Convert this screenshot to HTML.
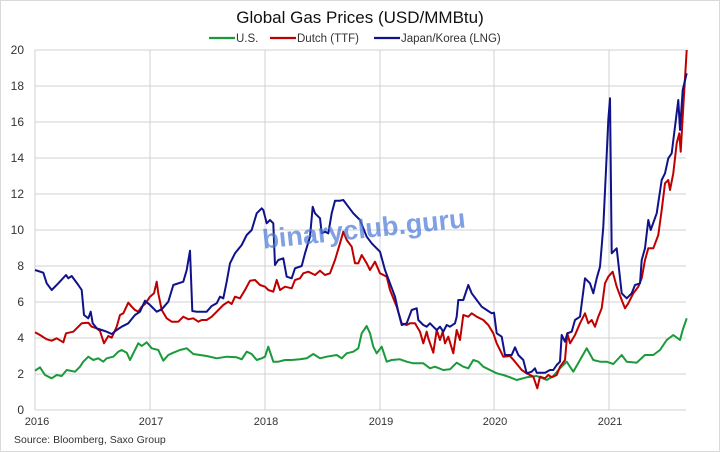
<!DOCTYPE html>
<html><head><meta charset="utf-8"><style>
html,body{margin:0;padding:0;background:#fff}
svg{display:block}
text{font-family:"Liberation Sans",sans-serif}
</style></head><body>
<svg width="720" height="452" viewBox="0 0 720 452" xmlns="http://www.w3.org/2000/svg">
<rect x="0.5" y="0.5" width="719" height="451" fill="#fff" stroke="#d9d9d9"/>
<text x="360" y="23" font-size="17" text-anchor="middle" fill="#111">Global Gas Prices (USD/MMBtu)</text>
<g font-size="11.5" fill="#333">
<line x1="209" y1="38" x2="235" y2="38" stroke="#1a9a3a" stroke-width="2.2"/><text x="236" y="42">U.S.</text>
<line x1="270" y1="38" x2="296" y2="38" stroke="#c00000" stroke-width="2.2"/><text x="297" y="42">Dutch (TTF)</text>
<line x1="374" y1="38" x2="400" y2="38" stroke="#10128a" stroke-width="2.2"/><text x="401" y="42">Japan/Korea (LNG)</text>
</g>
<g stroke="#d0d0d0" stroke-width="1">
<line x1="35" y1="50" x2="686" y2="50"/><line x1="35" y1="86" x2="686" y2="86"/><line x1="35" y1="122" x2="686" y2="122"/><line x1="35" y1="158" x2="686" y2="158"/><line x1="35" y1="194" x2="686" y2="194"/><line x1="35" y1="230" x2="686" y2="230"/><line x1="35" y1="266" x2="686" y2="266"/><line x1="35" y1="302" x2="686" y2="302"/><line x1="35" y1="338" x2="686" y2="338"/><line x1="35" y1="374" x2="686" y2="374"/><line x1="35" y1="410" x2="686" y2="410"/>
<line x1="35" y1="50" x2="35" y2="410"/><line x1="150" y1="50" x2="150" y2="410"/><line x1="265" y1="50" x2="265" y2="410"/><line x1="380" y1="50" x2="380" y2="410"/><line x1="494" y1="50" x2="494" y2="410"/><line x1="609" y1="50" x2="609" y2="410"/>
</g>
<g font-size="12" fill="#333" text-anchor="end">
<text x="24" y="54">20</text><text x="24" y="90">18</text><text x="24" y="126">16</text><text x="24" y="162">14</text><text x="24" y="198">12</text><text x="24" y="234">10</text><text x="24" y="270">8</text><text x="24" y="306">6</text><text x="24" y="342">4</text><text x="24" y="378">2</text><text x="24" y="414">0</text>
</g>
<g font-size="11" fill="#333" text-anchor="middle">
<text x="37" y="425">2016</text><text x="151" y="425">2017</text><text x="266" y="425">2018</text><text x="381" y="425">2019</text><text x="495" y="425">2020</text><text x="610" y="425">2021</text>
</g>
<text x="14" y="443" font-size="10.5" fill="#333">Source: Bloomberg, Saxo Group</text>
<g fill="none" stroke-width="2" stroke-linejoin="round">
<polyline stroke="#1a9a3a" points="35,370.7 40,367.3 45,375 51.7,378.3 56.7,375 61.7,376 66.7,370 75,371.7 80,366.7 83.3,361.7 88.3,356.7 93.3,360 98.3,358.3 103.3,361.7 106.7,358.3 113.3,356.7 118.3,351.7 121.7,350 126.7,352.7 130,360 133.3,353.3 138.3,343.3 141.7,346 146.7,342.3 151.7,348.3 158.3,350 163.3,360.7 168.3,355 173.3,352.7 180,350 186.7,348.3 193.3,354 200,355 206.7,356 216.7,358.3 226.7,356.7 236.7,357.3 241.7,359.3 246.7,351.7 251.7,354 256.7,360 261.7,358.3 265,356.7 268.3,346.7 273.3,361.7 278.3,361.7 285,360 291.7,360 300,359.3 306.7,358.3 313.3,354 320,358.3 326.7,356.7 336.7,355 341.7,358.3 346.7,353.3 353.3,351.7 358.3,348.3 361.7,333.3 366.7,326 370,333.3 373.3,346.7 376.7,353.3 381.7,346.7 386.7,361.7 391.7,360 400,359.3 406.7,361.7 413.3,363.3 423.3,363.3 430,368.3 435,366.7 443.3,370 450,369.3 456.7,362.7 463.3,366.7 468.3,368.3 473.3,360 478.3,361.7 483.3,366.7 490,370 496.7,373.3 503.3,375 510,377.3 516.7,380 526.7,377.3 536.7,376 546.7,380 553.3,376 560,368.3 566.7,361.7 573.3,371.7 580,360 586.7,348.3 593.3,360 600,361.7 606.7,361.7 613.3,364 621.7,355 626.7,361.7 636.7,362.7 645,355 653.3,355 660,350 666.7,340 673.3,335 680,340 682.7,330 686.7,318.3"/>
<polyline stroke="#c00000" points="35,332.3 40,335 46.7,339.3 51.7,340.7 56.7,338.3 63.3,342.3 66,333.3 73.3,331.7 78.3,326.7 81.7,323.3 88.3,322.7 91.7,326.7 96.7,328.3 100,331 104,343.3 108.3,336 111.7,337.7 116.7,326.7 120,315 123.3,313.3 128.3,302.7 131.7,306.7 135,310 138.3,311.7 141.7,306.7 145,304 150,296.7 154,293.3 156.7,281.7 158.3,293.3 161.7,310 166.7,318.3 171.7,321.7 178.3,321.7 183.3,316.7 188.3,319.3 193.3,318.3 198.3,321.7 201.7,320 206.7,320 211.7,316.7 216.7,311.7 223.3,305 228.3,301.7 231.7,304 235,296.7 240,298.3 245,290 250,280.7 255,280 260,285 265,286.7 268.3,290 273.3,291.7 276.7,280 280,290 285,286.7 291.7,288.3 295,280 300,278.3 303.3,273.3 308.3,271.7 315,275 320,270.7 325,275 330,273.3 335,260 340,243.3 343.3,231.7 346.7,240 351.7,246.7 355,263.3 358.3,263.3 361.7,255 366.7,263.3 370,270 375,261.7 380,273.3 386.7,276.7 390,290 396.7,306.7 401.7,323.3 406.7,325 410,323.3 415,323.3 420,331.7 423.3,343.3 426.7,331.7 428.3,338.3 433.3,352.7 436.7,330 440,340 442.7,331.7 445,343.3 448.3,336.7 453.3,353.3 456.7,330 460,340 463.3,315 468.3,316.7 471.7,313.3 476.7,316.7 483.3,320 488.3,325 493.3,333.3 496.7,343.3 503.3,356.7 510,356 515,361.7 521.7,370 526.7,373.3 533.3,376.7 537.3,388.3 540,376.7 545,378.3 548.3,375 551.7,377.3 556.7,375 560,366.7 565,360 567.3,333.3 570,343.3 575,335 580,323.3 585,313.3 588.3,323.3 591.7,320 595,326.7 598.3,316.7 601.7,308.3 605,283.3 608.3,276.7 612.7,271.7 616.7,286.7 621.7,300 625,308.3 628.3,303.3 633.3,293.3 638.3,286.7 641.7,278.3 645,260 648.3,248.3 653.3,248.3 658.3,235 661.7,210 665,183.3 668.3,180 670,190 673.3,173.3 676.7,143.3 679.3,133.3 680.7,151.7 683.3,106.7 686.7,50"/>
<polyline stroke="#10128a" points="35,270 43.3,272.7 46.7,283.3 51.7,290 58.3,283.3 66,275 68.3,278.3 71.7,276 78.3,285 81.7,290 84,315 88.3,318.3 90.7,311.7 92.7,323.3 96.7,328.3 101.7,330 106.7,331.7 111.7,334 116.7,330 121.7,326.7 128.3,323.3 135,315 140,311.7 145,300.7 150,305 156.7,311.7 161.7,309.3 168.3,301.7 173.3,285 183.3,281.7 186.7,270 190,250.7 192.3,311 196.7,311.7 206.7,311.7 211.7,306 216.7,303.3 220,296.7 223.3,298.3 226.7,281.7 230,263.3 235,253.3 241.7,245 246.7,235 251.7,230 256.7,213.3 261.7,208.3 263.3,210 266.7,223.3 270,220 273.3,223.3 275,265 278.3,260 283.3,258.3 286.7,276.7 291.7,278.3 295,268.3 301.7,266 305,253.3 310,236.7 312.7,206.7 315,213.3 320,218.3 321.7,233.3 325,231.7 328.3,233.3 331.7,213.3 335,200.7 340,200.7 343.3,200 348.3,206.7 353.3,213.3 360,220 363.3,228.3 366.7,236.7 371.7,243.3 375,246.7 380,251.7 385,270 390,283.3 395,296.7 398.3,311.7 401.7,325 406.7,323.3 411.7,310 416.7,308.3 418.3,320 423.3,325 426.7,326.7 430,323.3 433.3,326.7 436.7,330 440,326.7 443.3,331.7 446.7,325 450,326.7 455,323.3 456.7,316.7 458.3,300 463.3,300 468.3,285 471.7,293.3 476.7,300 481.7,306.7 486.7,310 491.7,313.3 494,312.7 496.7,333.3 501.7,336.7 505,355 511.7,355 515,347.3 518.3,355 523.3,360 526.7,373.3 531.7,371.7 535,368.3 536.7,372.7 545,372.7 550,370 553.3,370 556.7,365 560,361.7 561.7,335 565,341.7 567.3,333.3 571.7,331.7 575,320 580,316.7 585,278.3 590,283.3 593.3,293.3 596.7,278.3 600,266.7 603.3,226.7 606,170 608.3,120 610,98.3 611.7,253.3 616.7,248.3 621.7,293.3 626.7,298.3 631.7,293.3 635,285 640,283.3 641.7,260 645,248.3 648.3,220 650.7,230 656.7,213.3 661.7,180 665,173.3 668.3,158.3 671.7,153.3 675,126.7 678.3,100 680,130 682.7,90 686.7,73.3"/>
</g>
<text x="364" y="238" font-size="27" font-weight="bold" text-anchor="middle" fill="#4a78d8" fill-opacity="0.7" transform="rotate(-6 364 230)" font-family="DejaVu Sans, sans-serif">binaryclub.guru</text>
</svg>
</body></html>
